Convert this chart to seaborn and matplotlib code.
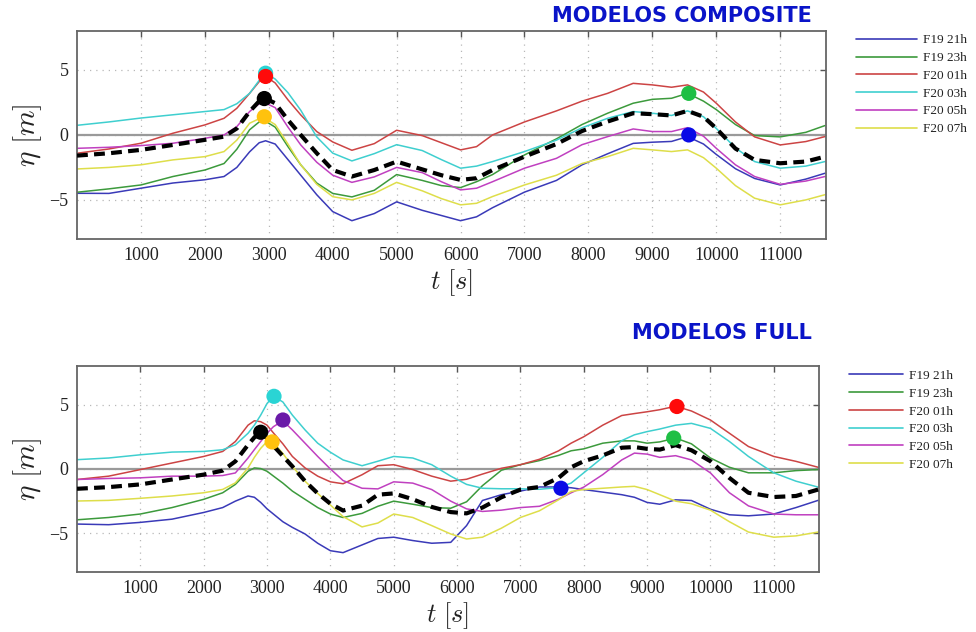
import numpy as np
import pandas as pd
import matplotlib
matplotlib.use("Agg")
import matplotlib.pyplot as plt
import seaborn as sns

# ---------------- data ----------------
MODELS = ["F19 21h", "F19 23h", "F20 01h", "F20 03h", "F20 05h", "F20 07h"]
LINE_COLORS = ["#3a3ab8", "#3c9a3c", "#cc4444", "#3fcfcf", "#c040c0", "#dede4a"]

# --- MODELOS COMPOSITE ---
T_COMP = [0, 500, 1000, 1500, 2000, 2300, 2500, 2700, 2850, 2950, 3100, 3300, 3500,
          3750, 4000, 4300, 4650, 5000, 5400, 5700, 6000, 6250, 6500, 7000, 7500,
          7900, 8300, 8700, 9000, 9300, 9550, 9800, 10000, 10300, 10600, 11000,
          11400, 11700]
COMP_F19_21 = [-4.49, -4.5, -4.1, -3.7, -3.45, -3.2, -2.5, -1.3, -0.6, -0.45, -0.7, -1.9,
               -3.1, -4.6, -5.9, -6.6, -6.05, -5.15, -5.8, -6.2, -6.6, -6.3, -5.6, -4.4,
               -3.5, -2.3, -1.45, -0.65, -0.56, -0.5, -0.13, -0.7, -1.5, -2.6, -3.35,
               -3.85, -3.4, -2.95]
COMP_F19_23 = [-4.41, -4.15, -3.85, -3.2, -2.7, -2.2, -1.1, 0.4, 1.0, 1.05, 0.6, -0.9,
               -2.3, -3.7, -4.5, -4.77, -4.26, -3.05, -3.5, -3.9, -4.05, -3.6, -3.05,
               -1.54, -0.3, 0.8, 1.67, 2.44, 2.74, 2.82, 3.2, 2.6, 1.95, 0.8, -0.05,
               -0.15, 0.2, 0.72]
COMP_F20_01 = [-1.41, -1.08, -0.64, 0.13, 0.77, 1.28, 2.05, 3.2, 4.1, 4.5, 4.0, 2.7,
               1.54, 0.26, -0.54, -1.18, -0.67, 0.36, -0.05, -0.6, -1.15, -0.9, 0.0,
               1.0, 1.85, 2.6, 3.2, 3.97, 3.85, 3.67, 3.85, 3.3, 2.44, 1.0, -0.15,
               -0.77, -0.51, -0.13]
COMP_F20_03 = [0.74, 1.0, 1.3, 1.55, 1.8, 1.95, 2.4, 3.2, 4.2, 4.75, 4.3, 3.25, 1.9,
               -0.15, -1.4, -2.0, -1.44, -0.75, -1.2, -1.9, -2.56, -2.4, -2.05, -1.28,
               -0.4, 0.55, 1.28, 1.8, 1.67, 1.5, 1.85, 1.4, 0.5, -1.0, -2.05, -2.56,
               -2.4, -2.05]
COMP_F20_05 = [-1.03, -0.95, -0.82, -0.64, -0.26, 0.0, 0.64, 1.8, 2.4, 2.45, 2.1, 0.6,
               -0.77, -2.1, -3.1, -3.65, -3.23, -2.5, -2.9, -3.6, -4.23, -4.1, -3.6,
               -2.56, -1.8, -0.75, -0.13, 0.46, 0.26, 0.26, 0.56, -0.1, -1.03, -2.3,
               -3.2, -3.8, -3.55, -3.2]
COMP_F20_07 = [-2.62, -2.5, -2.3, -1.92, -1.67, -1.28, -0.4, 0.9, 1.25, 1.25, 0.8, -0.7,
               -2.3, -3.8, -4.75, -5.0, -4.5, -3.65, -4.3, -4.9, -5.38, -5.26, -4.74,
               -3.85, -3.1, -2.2, -1.67, -1.03, -1.15, -1.28, -1.15, -1.75, -2.56, -3.9,
               -4.87, -5.38, -5.0, -4.6]
COMP_MEAN = [-1.59, -1.41, -1.15, -0.77, -0.38, -0.13, 0.5, 1.8, 2.6, 2.8, 2.44, 1.15,
             0.0, -1.4, -2.7, -3.2, -2.7, -2.05, -2.65, -3.1, -3.46, -3.33, -2.7, -1.67,
             -0.7, 0.3, 1.03, 1.67, 1.6, 1.5, 1.85, 1.4, 0.5, -1.05, -1.92, -2.18,
             -2.05, -1.67]
COMP_PEAK_T = [2950, 2950, 2930, 2930, 9570, 9570]
COMP_PEAK_ETA = [4.75, 4.5, 2.8, 1.4, 3.2, 0.0]
COMP_PEAK_COLORS = ["#2ad4d4", "#ff0a0a", "#000000", "#ffc20e", "#1fbf45", "#0a0ae6"]

# --- MODELOS FULL ---
T_FULL = [0, 500, 1000, 1500, 2000, 2300, 2500, 2700, 2800, 2900, 3000, 3100, 3250,
          3400, 3600, 3800, 4000, 4200, 4500, 4750, 5000, 5300, 5600, 5900, 6150,
          6400, 6700, 7000, 7300, 7600, 7800, 8000, 8300, 8600, 8800, 9000, 9200,
          9450, 9700, 10000, 10300, 10600, 11000, 11350, 11700]
FULL_F19_21 = [-4.28, -4.33, -4.15, -3.9, -3.38, -3.0, -2.5, -2.1, -2.2, -2.6, -3.1,
               -3.5, -4.1, -4.54, -5.05, -5.77, -6.35, -6.5, -5.9, -5.4, -5.3, -5.56,
               -5.77, -5.7, -4.4, -2.45, -2.0, -1.72, -1.4, -1.4, -1.46, -1.6, -1.8,
               -2.0, -2.2, -2.6, -2.74, -2.4, -2.45, -3.13, -3.56, -3.64, -3.5, -3.0,
               -2.44]
FULL_F19_23 = [-3.95, -3.77, -3.5, -3.0, -2.36, -1.85, -1.2, -0.18, 0.08, 0.03, -0.18,
               -0.55, -1.1, -1.72, -2.36, -3.0, -3.5, -3.77, -3.45, -2.9, -2.5, -2.74,
               -3.0, -3.05, -2.55, -1.3, -0.1, 0.33, 0.65, 1.05, 1.41, 1.56, 2.0, 2.18,
               2.18, 2.0, 2.1, 2.4, 1.95, 0.85, 0.13, -0.3, -0.3, -0.13, -0.05]
FULL_F20_01 = [-0.82, -0.56, -0.05, 0.46, 0.97, 1.36, 2.13, 3.4, 3.74, 3.67, 3.4, 2.8,
               1.95, 0.97, 0.08, -0.56, -1.0, -1.15, -0.45, 0.25, 0.33, -0.05, -0.56,
               -0.95, -0.8, -0.4, 0.05, 0.33, 0.75, 1.4, 2.0, 2.5, 3.4, 4.15, 4.3,
               4.44, 4.6, 4.87, 4.5, 3.8, 2.77, 1.74, 0.97, 0.59, 0.13]
FULL_F20_03 = [0.72, 0.85, 1.1, 1.31, 1.36, 1.49, 1.87, 2.77, 3.4, 4.18, 5.08, 5.64,
               5.2, 4.18, 3.03, 2.0, 1.3, 0.7, 0.25, 0.6, 0.97, 0.85, 0.33, -0.56,
               -1.2, -1.5, -1.54, -1.54, -1.58, -1.45, -1.1, -0.3, 0.9, 2.2, 2.65, 2.9,
               3.1, 3.4, 3.54, 3.15, 2.13, 0.97, -0.3, -0.95, -1.41]
FULL_F20_05 = [-0.82, -0.74, -0.69, -0.56, -0.56, -0.51, -0.31, 0.85, 1.5, 2.13, 2.77,
               3.28, 3.74, 3.03, 2.0, 0.97, 0.0, -0.9, -1.5, -1.55, -1.0, -1.1, -1.6,
               -2.5, -3.1, -3.3, -3.2, -3.0, -2.9, -2.35, -1.85, -1.41, -0.44, 0.7,
               1.23, 1.15, 0.9, 1.03, 0.7, -0.31, -1.85, -2.87, -3.5, -3.56, -3.56]
FULL_F20_07 = [-2.49, -2.44, -2.28, -2.1, -1.85, -1.59, -1.08, 0.08, 0.9, 1.6, 2.13,
               2.05, 1.2, 0.2, -0.95, -1.9, -2.8, -3.7, -4.5, -4.2, -3.5, -3.77, -4.4,
               -5.05, -5.44, -5.3, -4.6, -3.77, -3.25, -2.4, -1.75, -1.6, -1.5, -1.4,
               -1.35, -1.6, -2.0, -2.5, -2.7, -3.2, -4.1, -4.9, -5.3, -5.2, -4.9]
FULL_MEAN = [-1.54, -1.41, -1.2, -0.82, -0.44, -0.13, 0.59, 1.87, 2.45, 2.85, 2.4, 1.8,
             1.0, 0.2, -0.95, -1.9, -2.7, -3.23, -2.85, -2.0, -1.9, -2.35, -2.95, -3.35,
             -3.45, -3.0, -2.2, -1.6, -1.4, -0.7, 0.13, 0.6, 1.05, 1.65, 1.7, 1.56, 1.5,
             1.85, 1.45, 0.6, -0.7, -1.85, -2.18, -2.1, -1.6]
FULL_PEAK_T = [3110, 3250, 2900, 3080, 9470, 9420, 7640]
FULL_PEAK_ETA = [5.64, 3.8, 2.85, 2.1, 4.85, 2.4, -1.5]
FULL_PEAK_COLORS = ["#2ad4d4", "#6a1aa8", "#000000", "#ffc20e", "#ff0a0a", "#1fbf45", "#0a0ae6"]

X_TICKS = [1000, 2000, 3000, 4000, 5000, 6000, 7000, 8000, 9000, 10000, 11000]
Y_TICKS = [-5, 0, 5]
TITLES = ["MODELOS COMPOSITE", "MODELOS FULL"]

# ---------------- style ----------------
sns.set_style("white")
plt.rcParams["font.family"] = ["Liberation Serif", "DejaVu Serif"]
plt.rcParams["mathtext.fontset"] = "cm"

fig = plt.figure(figsize=(9.76, 6.32), dpi=100)
ax_top = fig.add_axes([0.0789, 0.622, 0.767, 0.329])
ax_bot = fig.add_axes([0.0789, 0.095, 0.760, 0.326])


def long_df(t, series):
    rows = []
    for name, vals in zip(MODELS, series):
        rows.append(pd.DataFrame({"t": t, "eta": vals, "model": name}))
    return pd.concat(rows, ignore_index=True)


def draw(ax, t, series, mean, pk_t, pk_eta, pk_col, title, legend_anchor, handlelen):
    ax.axhline(0, color="#9a9a9a", lw=1.6, zorder=1)
    df = long_df(t, series)
    sns.lineplot(data=df, x="t", y="eta", hue="model", hue_order=MODELS,
                 palette=dict(zip(MODELS, LINE_COLORS)), lw=1.1, ax=ax,
                 sort=False, estimator=None, zorder=2)
    sns.lineplot(x=t, y=mean, color="black", lw=3.0, ax=ax, legend=False,
                 sort=False, estimator=None, zorder=3, dashes=False)
    ax.lines[-1].set_dashes((2.6, 1.5))
    for xx, yy, cc in zip(pk_t, pk_eta, pk_col):
        ax.scatter([xx], [yy], s=120, color=cc, edgecolor="none", zorder=5)

    ax.set_xlim(0, 11710)
    ax.set_ylim(-8, 8)
    ax.set_xticks(X_TICKS)
    ax.set_yticks(Y_TICKS)
    ax.grid(True, color="#b8b8b8", ls=(0, (1, 4)), lw=0.9)
    ax.tick_params(direction="in", top=True, right=True, length=4.5, width=1.0,
                   colors="#555555", labelcolor="#222222", labelsize=13, pad=6)
    for sp in ax.spines.values():
        sp.set_color("#666666")
        sp.set_linewidth(1.3)
    ax.set_xlabel(r"$t\ [s]$", fontsize=19, color="#222222", labelpad=2)
    ax.set_ylabel(r"$\eta\ [m]$", fontsize=21, color="#222222", labelpad=4)

    handles, labels = ax.get_legend_handles_labels()
    leg = ax.legend(handles, labels, loc="upper left", bbox_to_anchor=legend_anchor,
                    bbox_transform=fig.transFigure, frameon=False, borderaxespad=0,
                    borderpad=0, fontsize=9.5, handlelength=handlelen,
                    handletextpad=0.45, labelspacing=0.42)
    for ln in leg.get_lines():
        ln.set_linewidth(1.2)
    for txt in leg.get_texts():
        txt.set_color("#222222")


draw(ax_top, T_COMP,
     [COMP_F19_21, COMP_F19_23, COMP_F20_01, COMP_F20_03, COMP_F20_05, COMP_F20_07],
     COMP_MEAN, COMP_PEAK_T, COMP_PEAK_ETA, COMP_PEAK_COLORS, TITLES[0],
     (0.877, 0.946), 4.6)
draw(ax_bot, T_FULL,
     [FULL_F19_21, FULL_F19_23, FULL_F20_01, FULL_F20_03, FULL_F20_05, FULL_F20_07],
     FULL_MEAN, FULL_PEAK_T, FULL_PEAK_ETA, FULL_PEAK_COLORS, TITLES[1],
     (0.870, 0.415), 4.1)

fig.text(812 / 976, 1 - 16 / 632, TITLES[0], ha="right", va="center",
         fontsize=15, fontweight="bold", color="#0a14c8", family="DejaVu Sans")
fig.text(812 / 976, 1 - 333 / 632, TITLES[1], ha="right", va="center",
         fontsize=15, fontweight="bold", color="#0a14c8", family="DejaVu Sans")

fig.savefig("out.png", dpi=100)
